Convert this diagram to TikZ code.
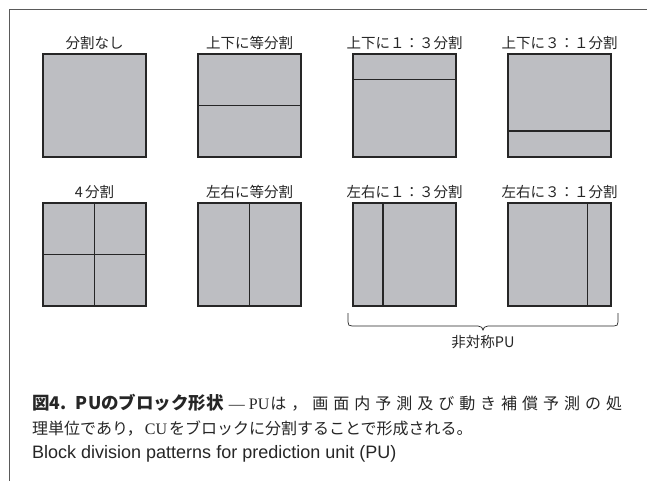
\documentclass[tikz,border=0pt]{standalone}
\usepackage{fontspec}
\setmainfont{Liberation Serif}
\setsansfont{Liberation Sans}
\newfontfamily\jp{Noto Sans CJK JP}
\usetikzlibrary{calc}
\definecolor{boxgray}{HTML}{BDBEC2}
\definecolor{framegray}{HTML}{5A5A5A}
\definecolor{ink}{HTML}{262626}
\begin{document}
\begin{tikzpicture}[x=1pt,y=-1pt,
  blk/.style={draw=ink, fill=boxgray, line width=1.6pt, minimum width=103pt, minimum height=103pt, inner sep=0pt, outer sep=0pt, anchor=north west},
  split/.style={draw=ink, line width=1.5pt},
  lbl/.style={font=\jp\fontsize{14.5}{16}\selectfont, text=ink, inner sep=0pt, anchor=center},
  captext/.style={inner sep=0pt, anchor=west, text=ink},
  bracestyle/.style={draw=ink, line width=0.7pt}]
\useasboundingbox (0,0) rectangle (647,481);
\fill[white] (0,0) rectangle (647,481);
\draw[framegray, line width=0.8pt] (9,481) -- (9,9) -- (647,9);

% row 1
\node[blk] (a1) at (43,54) {};
\node[blk] (a2) at (198,54) {};
\node[blk] (a3) at (353,54) {};
\node[blk] (a4) at (508,54) {};
% row 2
\node[blk] (b1) at (43,203) {};
\node[blk] (b2) at (198,203) {};
\node[blk] (b3) at (353,203) {};
\node[blk] (b4) at (508,203) {};

% splits
\draw[split] (a2.west) -- (a2.east);
\draw[split] ($(a3.north west)!0.25!(a3.south west)$) -- ($(a3.north east)!0.25!(a3.south east)$);
\draw[split] ($(a4.north west)!0.75!(a4.south west)$) -- ($(a4.north east)!0.75!(a4.south east)$);
\draw[split] (b1.west) -- (b1.east);
\draw[split] (b1.north) -- (b1.south);
\draw[split] (b2.north) -- (b2.south);
\draw[split] ($(b3.north west)!0.29!(b3.north east)$) -- ($(b3.south west)!0.29!(b3.south east)$);
\draw[split] ($(b4.north west)!0.77!(b4.north east)$) -- ($(b4.south west)!0.77!(b4.south east)$);
% redraw borders on top of splits
\foreach \n in {a1,a2,a3,a4,b1,b2,b3,b4} \draw[draw=ink, line width=1.6pt] (\n.north west) rectangle (\n.south east);

% labels
\node[lbl] (la1) at ($(a1.north)+(0,-11)$) {分割なし};
\node[lbl] (la2) at ($(a2.north)+(0,-11)$) {上下に等分割};
\node[lbl] (la3) at ($(a3.north)+(0,-11)$) {上下に１：３分割};
\node[lbl] (la4) at ($(a4.north)+(0,-11)$) {上下に３：１分割};
\node[lbl] (lb1) at ($(b1.north)+(0,-11)$) {4\,分割};
\node[lbl] (lb2) at ($(b2.north)+(0,-11)$) {左右に等分割};
\node[lbl] (lb3) at ($(b3.north)+(0,-11)$) {左右に１：３分割};
\node[lbl] (lb4) at ($(b4.north)+(0,-11)$) {左右に３：１分割};

% brace
\coordinate (bl) at (348,313);
\coordinate (br) at (618,313);
\coordinate (btip) at (483,330);
\draw[bracestyle] (bl) -- (348,322) .. controls (348,325) and (349,326) .. (352,326) -- (478,326) .. controls (481,326) and (483,328) .. (btip) .. controls (483,328) and (485,326) .. (488,326) -- (614,326) .. controls (617,326) and (618,325) .. (618,322) -- (br);
\node[lbl] (asym) at (483,342) {非対称PU};

% caption
\node[captext] (c1) at (32,403) {\makebox[590pt][l]{{\jp\bfseries\fontsize{17.5}{20}\selectfont 図4.\hspace{9pt}P\hspace{0.5pt}Uのブロック形状}\hspace{5pt}{\fontsize{16}{18}\selectfont —\hspace{4pt}PU\hspace{1pt}{\jp は\hfill ，\hfill 画\hfill 面\hfill 内\hfill 予\hfill 測\hfill 及\hfill び\hfill 動\hfill き\hfill 補\hfill 償\hfill 予\hfill 測\hfill の\hfill 処}}}};
\node[captext] (c2) at (32,428) {\fontsize{16}{18}\selectfont\jp 理単位であり，\hspace{2pt}{\rmfamily CU}\hspace{2pt}をブロックに分割することで形成される。};
\node[captext] (c3) at (32,454) {\sffamily\fontsize{18}{20}\selectfont Block division patterns for prediction unit (PU)};
\end{tikzpicture}
\end{document}
